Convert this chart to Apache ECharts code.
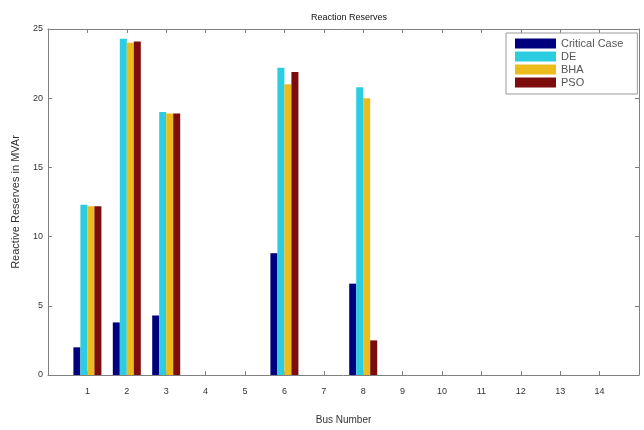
<!DOCTYPE html>
<html>
<head>
<meta charset="utf-8">
<script src="https://cdn.jsdelivr.net/npm/echarts@6/dist/echarts.min.js"></script>
<style>
  html, body { margin: 0; padding: 0; background: #fff; }
  #chart { width: 644px; height: 430px; }
</style>
</head>
<body>
<div id="chart"></div>
<script>
// Bus numbers along the x axis
const buses = [1, 2, 3, 4, 5, 6, 7, 8, 9, 10, 11, 12, 13, 14];

// Reactive reserves (MVAr) per bus for each case
const criticalCase = [2.0, 3.8, 4.3, 0, 0, 8.8, 0, 6.6, 0, 0, 0, 0, 0, 0];
const de           = [12.3, 24.3, 19.0, 0, 0, 22.2, 0, 20.8, 0, 0, 0, 0, 0, 0];
const bha          = [12.2, 24.0, 18.9, 0, 0, 21.0, 0, 20.0, 0, 0, 0, 0, 0, 0];
const pso          = [12.2, 24.1, 18.9, 0, 0, 21.9, 0, 2.5, 0, 0, 0, 0, 0, 0];

const seriesNames = ['Critical Case', 'DE', 'BHA', 'PSO'];
const seriesData = [criticalCase, de, bha, pso];
const seriesColors = ['#00007f', '#2ccde0', '#ecbc1c', '#7d0c0c'];

const yTicks = [0, 5, 10, 15, 20, 25];

const font = 'Liberation Sans, Arial, sans-serif';
const axisColor = '#808080';
const textColor = '#333';

const chart = echarts.init(document.getElementById('chart'), null, { renderer: 'canvas' });

// Box-style axes: a line on every side with short inward ticks
const baseAxis = {
  axisLine: { show: true, onZero: false, lineStyle: { color: axisColor, width: 1 } },
  axisTick: { show: true, inside: true, length: 4, lineStyle: { color: axisColor } },
  splitLine: { show: false }
};

chart.setOption({
  animation: false,
  backgroundColor: '#fff',
  title: {
    text: 'Reaction Reserves',
    left: 344,
    textAlign: 'center',
    top: 8,
    textStyle: { fontFamily: font, fontSize: 9, fontWeight: 'normal', color: '#111' }
  },
  legend: {
    orient: 'vertical',
    left: 506,
    top: 33,
    padding: [5, 14, 6, 9],
    itemGap: 2,
    itemWidth: 41,
    itemHeight: 10,
    icon: 'rect',
    borderColor: '#9a9a9a',
    borderWidth: 1,
    backgroundColor: '#fff',
    textStyle: { fontFamily: font, fontSize: 11, lineHeight: 11, color: '#555' },
    data: seriesNames
  },
  grid: { left: 48, right: 5, top: 29, bottom: 42, containLabel: false },
  xAxis: [
    Object.assign({}, baseAxis, {
      type: 'value',
      min: 0,
      max: buses.length + 1,
      interval: 1,
      position: 'bottom',
      name: 'Bus Number',
      nameLocation: 'middle',
      nameGap: 40,
      nameTextStyle: { fontFamily: font, fontSize: 10, color: textColor },
      axisLabel: {
        fontFamily: font, fontSize: 9, color: textColor, margin: 12,
        formatter: v => (buses.indexOf(v) >= 0 ? String(v) : '')
      }
    }),
    Object.assign({}, baseAxis, {
      type: 'value',
      min: 0,
      max: buses.length + 1,
      interval: 1,
      position: 'top',
      axisLabel: { show: false }
    })
  ],
  yAxis: [
    Object.assign({}, baseAxis, {
      type: 'value',
      min: yTicks[0],
      max: yTicks[yTicks.length - 1],
      interval: 5,
      position: 'left',
      name: 'Reactive Reserves in MVAr',
      nameLocation: 'middle',
      nameGap: 27,
      nameTextStyle: { fontFamily: font, fontSize: 11, color: textColor },
      axisLabel: { fontFamily: font, fontSize: 9, color: textColor, margin: 5 }
    }),
    Object.assign({}, baseAxis, {
      type: 'value',
      min: yTicks[0],
      max: yTicks[yTicks.length - 1],
      interval: 5,
      position: 'right',
      axisLabel: { show: false }
    })
  ],
  series: seriesNames.map((name, i) => ({
    name: name,
    type: 'bar',
    xAxisIndex: 0,
    yAxisIndex: 0,
    barWidth: 7,
    barGap: '0%',
    itemStyle: { color: seriesColors[i] },
    data: buses.map((b, k) => [b, seriesData[i][k]])
  }))
});
</script>
</body>
</html>
